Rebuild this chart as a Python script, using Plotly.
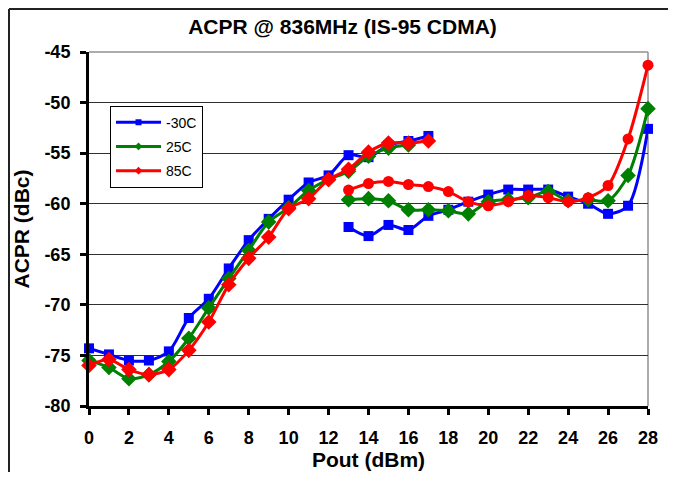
import plotly.graph_objects as go

# ---- data ----
pout_low = list(range(0, 18))          # 0..17 dBm
pout_low_25 = list(range(0, 17))       # 0..16 dBm
pout_high = list(range(13, 29))        # 13..28 dBm

acpr_m30_low = [-74.3, -74.9, -75.5, -75.5, -74.6, -71.3, -69.4, -66.4, -63.6,
                -61.5, -59.6, -57.9, -57.2, -55.2, -55.4, -54.2, -53.8, -53.3]
acpr_25_low = [-75.5, -76.2, -77.3, -76.9, -75.6, -73.3, -70.3, -67.4, -64.6,
               -61.8, -60.4, -58.7, -57.6, -56.8, -55.3, -54.5, -54.2]
acpr_85_low = [-76.0, -75.4, -76.4, -76.9, -76.4, -74.5, -71.7, -68.0, -65.4,
               -63.3, -60.5, -59.5, -57.6, -56.6, -54.9, -54.0, -54.0, -53.8]

acpr_m30_high = [-62.3, -63.2, -62.1, -62.6, -61.2, -60.6, -59.8, -59.1, -58.6,
                 -58.6, -58.6, -59.3, -60.0, -61.0, -60.2, -52.6]
acpr_25_high = [-59.6, -59.5, -59.7, -60.6, -60.6, -60.7, -61.0, -59.8, -59.6,
                -59.4, -58.8, -59.7, -59.6, -59.7, -57.2, -50.6]
acpr_85_high = [-58.65, -58.0, -57.8, -58.1, -58.3, -58.8, -59.8, -60.2, -59.8,
                -59.2, -59.4, -59.8, -59.4, -58.2, -53.6, -46.3]

series_names = ["-30C", "25C", "85C"]
colors = ["#0000FF", "#008000", "#FF0000"]

x_ticks = list(range(0, 29, 2))
y_ticks = list(range(-80, -44, 5))

FONT = "Liberation Sans, Arial, sans-serif"

fig = go.Figure()

def add(x, y, color, symbol, size):
    fig.add_trace(go.Scatter(
        x=x, y=y, mode="lines+markers", showlegend=False, cliponaxis=False,
        line=dict(color=color, width=3, shape="spline", smoothing=0.8),
        marker=dict(color=color, symbol=symbol, size=size),
    ))

add(pout_low, acpr_m30_low, colors[0], "square", 10)
add(pout_high, acpr_m30_high, colors[0], "square", 10)
add(pout_low_25, acpr_25_low, colors[1], "diamond", 12)
add(pout_high, acpr_25_high, colors[1], "diamond", 12)
add(pout_low, acpr_85_low, colors[2], "diamond", 12)
add(pout_high, acpr_85_high, colors[2], "circle", 11)

legend_symbols = ["square", "diamond", "diamond"]
for name, c, s in zip(series_names, colors, legend_symbols):
    fig.add_trace(go.Scatter(
        x=[None], y=[None], mode="lines+markers", name=name, legendgroup=name,
        line=dict(color=c, width=3), marker=dict(color=c, symbol=s, size=6),
    ))

# the page body adds an 8 px offset; figure is sized so it fits the window
fig.update_layout(
    width=660, height=464, autosize=False,
    margin=dict(l=81, r=20, t=44, b=66),
    paper_bgcolor="white", plot_bgcolor="white",
    font=dict(family=FONT, color="black"),
    title=dict(text="ACPR @ 836MHz (IS-95 CDMA)", xref="container", yref="container",
               x=0.5068, y=0.959, xanchor="center", yanchor="middle",
               font=dict(family=FONT, size=21, weight="bold", color="black")),
    legend=dict(x=0.0376, y=0.8485, xanchor="left", yanchor="top",
                bgcolor="white", bordercolor="black", borderwidth=1,
                font=dict(family=FONT, size=14, color="black"),
                itemwidth=45, tracegroupgap=3),
    xaxis=dict(range=[0, 28], tickvals=x_ticks, ticktext=[str(v) for v in x_ticks],
               showline=True, linecolor="black", linewidth=3, automargin=False,
               ticks="outside", ticklen=6, tickwidth=3, tickcolor="black",
               showgrid=False, zeroline=False, ticklabelstandoff=7,
               tickfont=dict(family=FONT, size=18, weight="bold"),
               title=dict(text="Pout (dBm)", standoff=6,
                          font=dict(family=FONT, size=21, weight="bold"))),
    yaxis=dict(range=[-80, -45], tickvals=y_ticks, ticktext=[str(v) for v in y_ticks],
               showline=True, linecolor="black", linewidth=3, automargin=False,
               ticks="outside", ticklen=6, tickwidth=3, tickcolor="black",
               showgrid=True, gridcolor="#303030", gridwidth=1, zeroline=False,
               ticklabelstandoff=6,
               tickfont=dict(family=FONT, size=18, weight="bold"),
               title=dict(text="ACPR (dBc)", standoff=10,
                          font=dict(family=FONT, size=21, weight="bold"))),
    shapes=[
        dict(type="line", xref="paper", yref="paper", x0=0, x1=1, y0=1, y1=1,
             line=dict(color="#909090", width=1.5), layer="below"),
        dict(type="line", xref="paper", yref="paper", x0=1, x1=1, y0=0, y1=1,
             line=dict(color="#909090", width=1.5), layer="below"),
        # outer chart frame (left and top edges are the only ones inside the picture)
        dict(type="line", xref="paper", yref="paper", x0=-0.1431, x1=1.2, y0=1.1215, y1=1.1215,
             line=dict(color="#222222", width=2), layer="below"),
        dict(type="line", xref="paper", yref="paper", x0=-0.1431, x1=-0.1431, y0=-0.3, y1=1.1215,
             line=dict(color="#222222", width=2), layer="below"),
    ],
)

fig.write_html("out.html")
